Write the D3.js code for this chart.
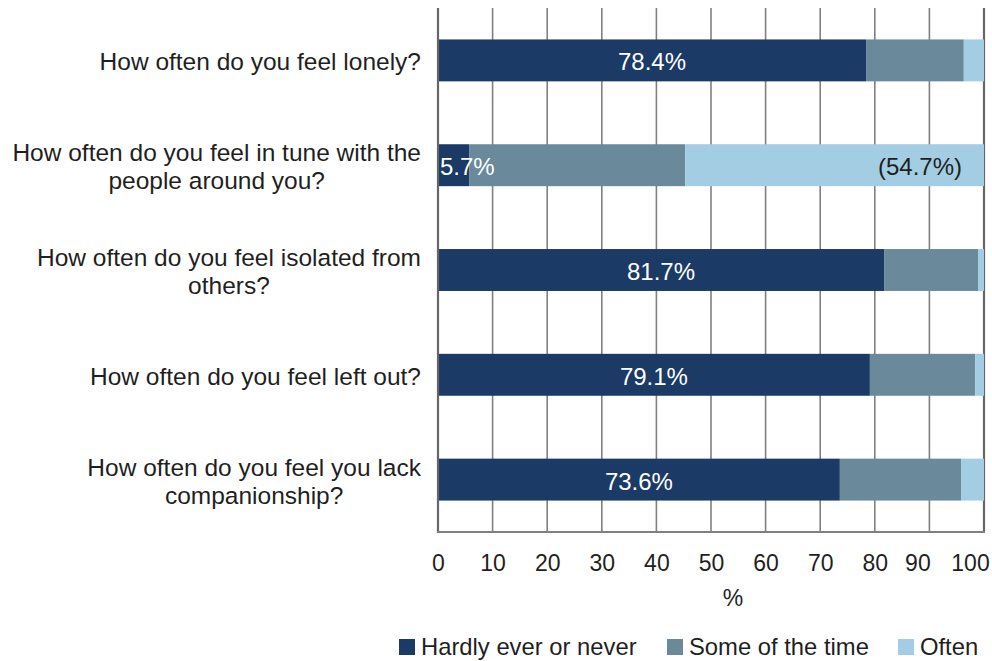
<!DOCTYPE html>
<html>
<head>
<meta charset="utf-8">
<script src="https://cdn.jsdelivr.net/npm/d3@7"></script>
<style>
  html, body { margin: 0; padding: 0; background: #fff; }
  svg { display: block; font-family: "Liberation Sans", Arial, Helvetica, sans-serif; }
</style>
</head>
<body>
<svg id="chart" width="992" height="661"></svg>
<script>
// ---- data ----
const labelLines = [
  ["How often do you feel lonely?"],
  ["How often do you feel in tune with the", "people around you?"],
  ["How often do you feel isolated from", "others?"],
  ["How often do you feel left out?"],
  ["How often do you feel you lack", "companionship?"]
];
const categories = labelLines.map(l => l.join(" "));
const seriesNames = ["Hardly ever or never", "Some of the time", "Often"];
const hardly = [78.4, 5.7, 81.7, 79.1, 73.6];
const some   = [17.9, 39.6, 17.2, 19.3, 22.2];
const often  = [3.7, 54.7, 1.1, 1.6, 4.2];
const hardlyLabels = ["78.4%", "5.7%", "81.7%", "79.1%", "73.6%"];
const oftenLabels  = ["", "(54.7%)", "", "", ""];
const xTicks = [0, 10, 20, 30, 40, 50, 60, 70, 80, 90, 100];
const xTitle = "%";
const colors = ["#1b3a66", "#6a8a9b", "#a3cde2"];

// ---- layout ----
const svg = d3.select("#chart");
const pL = 438, pR = 984, pT = 8, pB = 532;

const x = d3.scaleLinear().domain([0, 100]).range([pL, pR]);
const y = d3.scaleBand().domain(categories).range([pT, pB])
  .paddingInner(0.6).paddingOuter(0.3);

// gridlines
svg.append("g").selectAll("line").data(xTicks.slice(1)).join("line")
  .attr("x1", d => x(d)).attr("x2", d => x(d))
  .attr("y1", pT).attr("y2", pB)
  .attr("stroke", d => d === 100 ? "#666" : "#808080")
  .attr("stroke-width", d => d === 100 ? 2.2 : 1.6);

// stacked bars
const stackData = categories.map((c, i) => ({ cat: c, h: hardly[i], s: some[i], o: often[i] }));
const stacked = d3.stack().keys(["h", "s", "o"])(stackData);

svg.append("g").selectAll("g").data(stacked).join("g")
  .attr("fill", (d, i) => colors[i])
  .selectAll("rect").data(d => d).join("rect")
  .attr("x", d => x(d[0]))
  .attr("width", d => x(d[1]) - x(d[0]))
  .attr("y", d => y(d.data.cat))
  .attr("height", y.bandwidth());

// axis lines (left + bottom)
svg.append("line").attr("x1", pL).attr("x2", pL).attr("y1", pT).attr("y2", pB + 1)
  .attr("stroke", "#666").attr("stroke-width", 2.2);
svg.append("line").attr("x1", pL - 1).attr("x2", pR + 1).attr("y1", pB).attr("y2", pB)
  .attr("stroke", "#808080").attr("stroke-width", 2);

// x axis tick labels
const xAxis = d3.axisBottom(x).tickValues(xTicks).tickSize(0).tickPadding(0);
const gx = svg.append("g").attr("transform", `translate(0,${pB})`).call(xAxis);
gx.select(".domain").remove();
gx.selectAll("text")
  .attr("y", 39).attr("dy", 0)
  .attr("font-size", 23).attr("fill", "#1f1f1f")
  .attr("font-family", "'Liberation Sans', Arial, sans-serif")
  .attr("dx", d => d === 90 ? -12 : d === 100 ? -14 : 0);

svg.append("text").attr("x", 733).attr("y", 606)
  .attr("text-anchor", "middle").attr("font-size", 23).attr("fill", "#1f1f1f")
  .text(xTitle);

// category labels
const labelRight = 421;
const lineH = 28;
const lg = svg.append("g").attr("font-size", 24.5).attr("fill", "#1f1f1f");
labelLines.forEach((lines, i) => {
  const cy = y(categories[i]) + y.bandwidth() / 2;
  const t = lg.append("text").attr("text-anchor", "middle");
  const firstBase = cy + 10 - (lines.length - 1) * lineH / 2;
  const spans = lines.map((ln, j) => t.append("tspan").attr("y", firstBase + j * lineH).text(ln));
  const maxW = d3.max(spans, s => s.node().getComputedTextLength());
  spans.forEach(s => s.attr("x", labelRight - maxW / 2));
});

// value labels
const vg = svg.append("g").attr("font-size", 24);
categories.forEach((c, i) => {
  const cy = y(c) + y.bandwidth() / 2;
  const w = x(hardly[i]) - x(0);
  const t = vg.append("text").attr("y", cy + 10).attr("fill", "#fff").text(hardlyLabels[i]);
  const tw = t.node().getComputedTextLength();
  if (tw + 6 < w) {
    t.attr("x", (x(0) + x(hardly[i])) / 2).attr("text-anchor", "middle");
  } else {
    t.attr("x", x(0) + 2).attr("text-anchor", "start");
  }
  if (oftenLabels[i]) {
    vg.append("text").attr("y", cy + 10).attr("fill", "#1f1f1f")
      .attr("x", x(100) - 22).attr("text-anchor", "end").text(oftenLabels[i]);
  }
});

// legend
const legendX = [399, 667, 898];
const leg = svg.append("g").selectAll("g").data(seriesNames).join("g")
  .attr("transform", (d, i) => `translate(${legendX[i]},639)`);
leg.append("rect").attr("width", 16).attr("height", 16).attr("fill", (d, i) => colors[i]);
leg.append("text").attr("x", 22).attr("y", 16).attr("font-size", 23.8).attr("fill", "#1f1f1f").text(d => d);
</script>
</body>
</html>
